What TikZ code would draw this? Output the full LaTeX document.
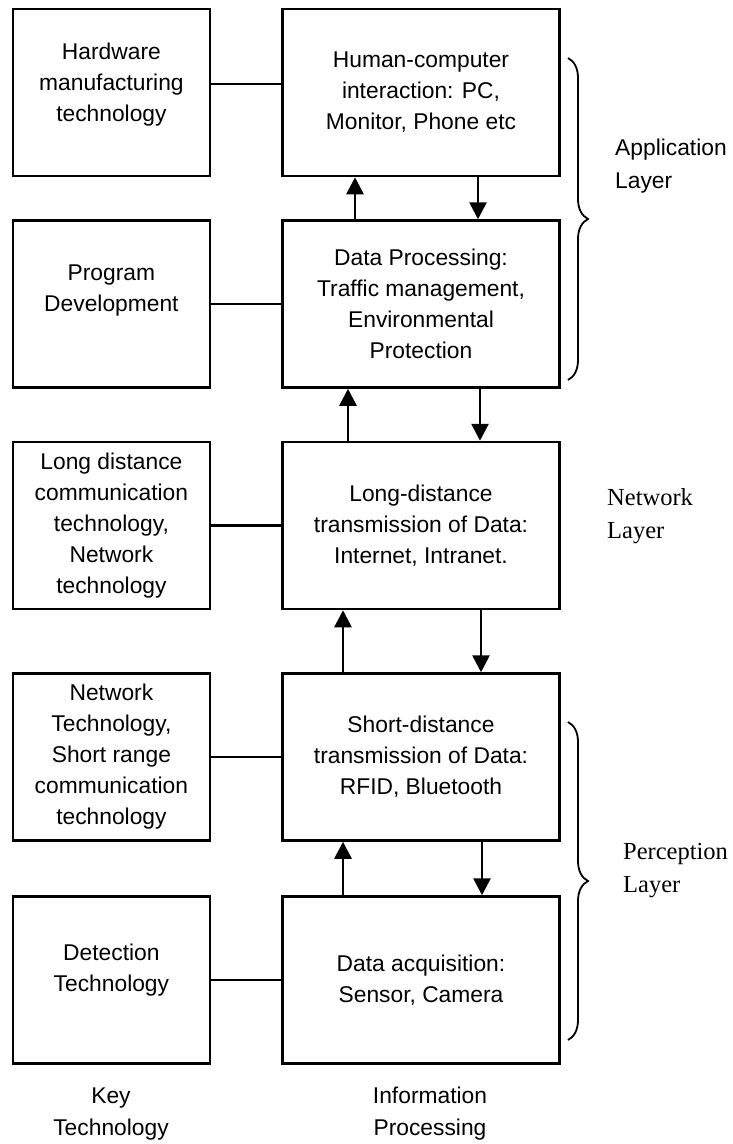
\documentclass[tikz,border=0pt]{standalone}
\usepackage{fontspec}
\setmainfont{Liberation Sans}
\newfontfamily\layerfont{Liberation Serif}
\usetikzlibrary{arrows.meta,decorations.pathreplacing}

\begin{document}
\begin{tikzpicture}[x=1pt, y=-1pt,
    box/.style={draw, line width=2.5pt, minimum height=167pt, align=center, inner sep=2pt,
        font=\fontsize{22.8}{31}\selectfont},
    keybox/.style={box, minimum width=197pt},
    infobox/.style={box, minimum width=277pt},
    flow/.style={line width=2.7pt, -{Triangle[length=17pt,width=17pt]}},
    link/.style={line width=2.4pt},
    layerbrace/.style={decorate, decoration={brace, amplitude=20pt}, line width=1.8pt},
    layer/.style={align=left, anchor=west, inner sep=0pt, font=\fontsize{22.8}{33}\selectfont},
    layerserif/.style={layer, font=\layerfont\fontsize{24.5}{33}\selectfont},
    foot/.style={align=center, inner sep=0pt, font=\fontsize{22.8}{32}\selectfont}]

    \useasboundingbox (0,0) rectangle (732,1144);

    % key technology column
    \node[keybox] (hw)  at (111.4,92.5) {Hardware\\manufacturing\\technology\\[-10pt]};
    \node[keybox] (pd)  at (111.4,304)  {Program\\Development\\};
    \node[keybox] (ldc) at (111.4,525.5) {Long distance\\communication\\technology,\\Network\\technology};
    \node[keybox] (src) at (111.4,757)  {Network\\Technology,\\Short range\\communication\\technology};
    \node[keybox] (det) at (111.4,980)  {Detection\\Technology\\[-7pt]};

    % information processing column
    \node[infobox] (hci) at (421,92.5) {Human-computer\\interaction: PC,\\Monitor, Phone etc};
    \node[infobox] (dp)  at (421,304)  {Data Processing:\\Traffic management,\\Environmental\\Protection};
    \node[infobox] (ldt) at (421,525.5) {Long-distance\\transmission of Data:\\Internet, Intranet.};
    \node[infobox] (sdt) at (421,757)  {Short-distance\\transmission of Data:\\RFID, Bluetooth};
    \node[infobox] (acq) at (421,980)  {Data acquisition:\\Sensor, Camera};

    % links between the columns
    \draw[link] ([yshift=8.5pt]hw.east) -- ([yshift=8.5pt]hci.west);
    \draw[link] (pd)  -- (dp);
    \draw[link] (ldc) -- (ldt);
    \draw[link] (src) -- (sdt);
    \draw[link] (det) -- (acq);

    % data going up and down
    \draw[flow] ([xshift=-66pt]dp.north)  -- ([xshift=-66pt]hci.south);
    \draw[flow] ([xshift=57pt]hci.south)  -- ([xshift=57pt]dp.north);
    \draw[flow] ([xshift=-73pt]ldt.north) -- ([xshift=-73pt]dp.south);
    \draw[flow] ([xshift=59pt]dp.south)   -- ([xshift=59pt]ldt.north);
    \draw[flow] ([xshift=-78pt]sdt.north) -- ([xshift=-78pt]ldt.south);
    \draw[flow] ([xshift=60pt]ldt.south)  -- ([xshift=60pt]sdt.north);
    \draw[flow] ([xshift=-78pt]acq.north) -- ([xshift=-78pt]sdt.south);
    \draw[flow] ([xshift=61pt]sdt.south)  -- ([xshift=61pt]acq.north);

    % layers
    \draw[layerbrace] (568,58) -- (568,380);
    \draw[layerbrace] (568,722) -- (568,1040);
    \node[layer] (app) at (615,166.5) {Application\\Layer};
    \node[layerserif] (net) at (607,516.5) {Network\\Layer};
    \node[layerserif] (per) at (623,871) {Perception\\Layer};

    \node[foot] (key)  at (111,1114) {Key\\Technology};
    \node[foot] (info) at (430,1114) {Information\\Processing};
\end{tikzpicture}
\end{document}
